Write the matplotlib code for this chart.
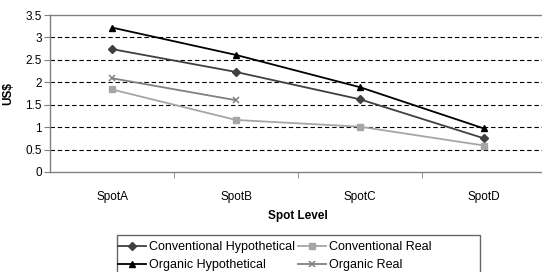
import numpy as np
import matplotlib
matplotlib.use('Agg')
import matplotlib.pyplot as plt
from matplotlib.patches import Rectangle

plt.rcParams['font.family'] = ['Liberation Sans', 'DejaVu Sans']

categories = ['SpotA', 'SpotB', 'SpotC', 'SpotD']
conv_hyp = [2.74, 2.23, 1.62, 0.75]
conv_real = [1.84, 1.16, 1.01, 0.59]
org_hyp = [3.22, 2.61, 1.89, 0.97]
org_real = [2.09, 1.60, np.nan, np.nan]

W, H = 542, 272
fig = plt.figure(figsize=(W / 100, H / 100), dpi=100)
ax = fig.add_axes([50/W, 1 - 172/H, 496/W, 157/H])

x = np.arange(len(categories))
l1, = ax.plot(x, conv_hyp, color='#404040', marker='D', markersize=4, lw=1.3,
              label='Conventional Hypothetical')
l2, = ax.plot(x, conv_real, color='#a6a6a6', marker='s', markersize=4.5, lw=1.3,
              label='Conventional Real')
l3, = ax.plot(x, org_hyp, color='black', marker='^', markersize=5, lw=1.3,
              label='Organic Hypothetical')
l4, = ax.plot(x, org_real, color='#808080', marker='x', markersize=5, lw=1.3,
              mew=1.1, label='Organic Real')

ax.set_xlim(-0.5, len(categories) - 0.5)
ax.set_ylim(0, 3.5)
ax.set_yticks(np.arange(0, 3.51, 0.5))
ax.set_yticklabels(['0', '0.5', '1', '1.5', '2', '2.5', '3', '3.5'])
ax.set_xticks(x)
ax.set_xticklabels(categories)
ax.set_xticks(np.arange(0.5, len(categories) - 0.5, 1), minor=True)
ax.tick_params(axis='x', which='major', length=0, pad=14, labelsize=8.5)
ax.tick_params(axis='x', which='minor', length=4, direction='out', color='#808080')
ax.tick_params(axis='y', length=4, direction='out', color='#808080', labelsize=8.5, pad=2)

for y in np.arange(0.5, 3.01, 0.5):
    ax.axhline(y, color='black', lw=0.8, ls=(0, (4, 2.5)), zorder=0)

for s in ['left', 'bottom', 'top']:
    ax.spines[s].set_color('#808080')
    ax.spines[s].set_linewidth(1.0)
ax.spines['right'].set_visible(False)

ax.set_xlabel('Spot Level', fontsize=8.5, fontweight='bold', labelpad=5)
ax.set_ylabel('US$', fontsize=8.5, fontweight='bold', labelpad=8)

# ncol=2 fills by column, so order: conv hyp, org hyp | conv real, org real
fig.legend([l1, l3, l2, l4],
           [l1.get_label(), l3.get_label(), l2.get_label(), l4.get_label()],
           loc='upper left', bbox_to_anchor=(118/W, 1 - 241/H), ncol=2,
           fontsize=9, frameon=False,
           borderpad=0, labelspacing=0.5, handlelength=2.2, handletextpad=0.25,
           columnspacing=0.3, borderaxespad=0)

# Excel-style legend box, wider than its entries
fig.patches.append(Rectangle((117/W, 1 - 280/H), 363/W, 45/H, transform=fig.transFigure,
                             fill=False, edgecolor='#666666', lw=1.0))

fig.savefig('out.png', dpi=100)
